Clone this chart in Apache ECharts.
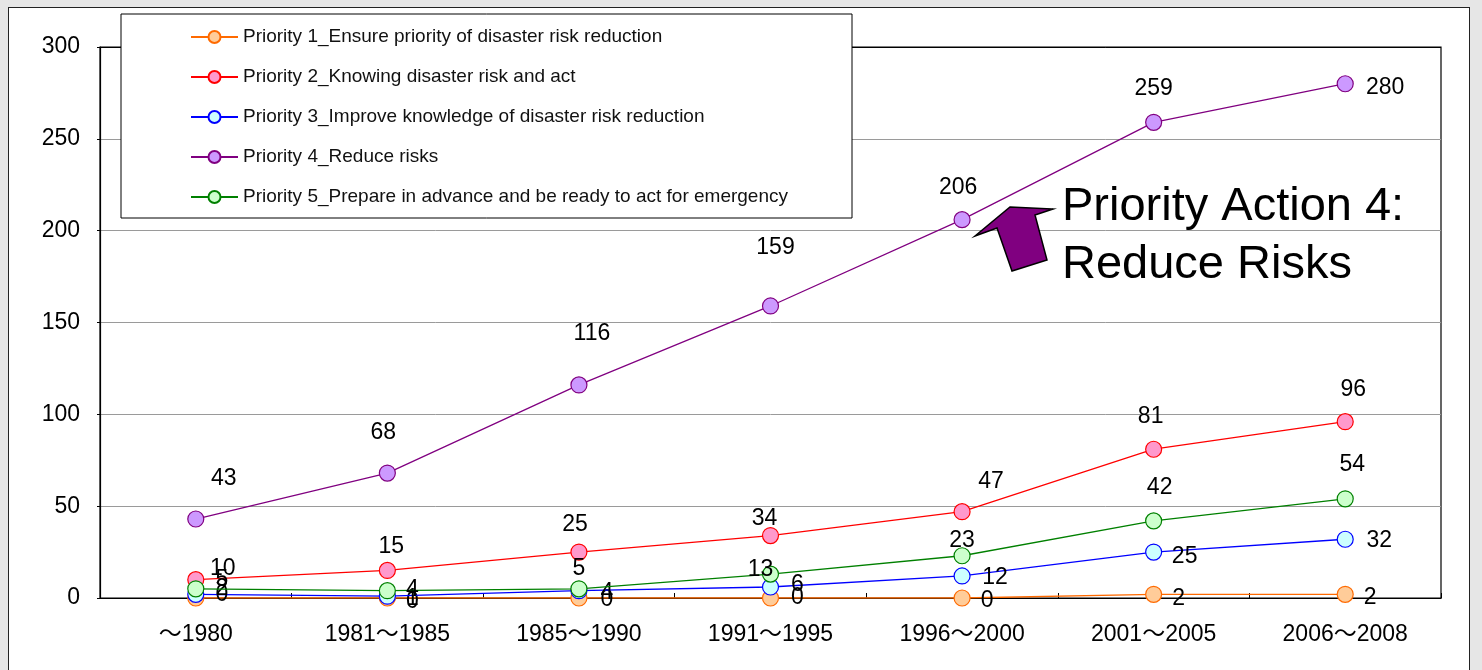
<!DOCTYPE html>
<html>
<head>
<meta charset="utf-8">
<script src="https://cdn.jsdelivr.net/npm/echarts@6/dist/echarts.min.js"></script>
<style>
  html, body { margin: 0; padding: 0; background: #e6e6e6; }
  #panel { position: absolute; left: 8px; top: 7px; width: 1462px; height: 700px; background: #fff; border: 1px solid #222; box-sizing: border-box; }
  #chart { position: absolute; left: 0; top: 0; width: 1482px; height: 670px; }
</style>
</head>
<body>
<div id="panel"></div>
<div id="chart"></div>
<script>
// Periods on the category axis
const periods = ['～1980', '1981～1985', '1985～1990', '1991～1995', '1996～2000', '2001～2005', '2006～2008'];

// Counts per priority and period
const priority1 = [0, 0, 0, 0, 0, 2, 2];
const priority2 = [10, 15, 25, 34, 47, 81, 96];
const priority3 = [2, 1, 4, 6, 12, 25, 32];
const priority4 = [43, 68, 116, 159, 206, 259, 280];
const priority5 = [5, 4, 5, 13, 23, 42, 54];

const seriesNames = [
  'Priority 1_Ensure priority of disaster risk reduction',
  'Priority 2_Knowing disaster risk and act',
  'Priority 3_Improve knowledge of disaster risk reduction',
  'Priority 4_Reduce risks',
  'Priority 5_Prepare in advance and be ready to act for emergency'
];

// Hand-placed label offsets (pixels from each marker) so the numbers don't collide
const labelOffsets = [
  [[26, -3], [25, 4], [28, 2], [27, 0], [25, 3], [25, 4], [25, 3]],
  [[27, -11], [4, -24], [-4, -27], [-6, -17], [29, -30], [-3, -33], [8, -32]],
  [[26, -6], [25, 2], [28, 2], [27, -2], [33, 2], [31, 5], [34, 1]],
  [[28, -40], [-4, -40], [13, -51], [5, -58], [-4, -32], [0, -34], [40, 4]],
  [[26, -9], [25, -1], [0, -20], [-10, -4], [0, -15], [6, -33], [7, -34]]
];

const lineColors = ['#ff6a00', '#ff0000', '#0000ff', '#800080', '#008000'];
const markerFills = ['#ffcc99', '#ff99cc', '#ccffff', '#cc99ff', '#ccffcc'];

const FONT = "'Liberation Sans', 'Noto Sans CJK JP', sans-serif";
const seriesValues = [priority1, priority2, priority3, priority4, priority5];

const series = seriesValues.map((vals, i) => ({
  name: seriesNames[i],
  type: 'line',
  data: vals.map((v, j) => ({ value: v, label: { offset: labelOffsets[i][j] } })),
  symbol: 'circle',
  symbolSize: 16,
  z: 2 + i,
  lineStyle: { color: lineColors[i], width: 1.3 },
  itemStyle: { color: markerFills[i], borderColor: lineColors[i], borderWidth: 1.2 },
  label: {
    show: true,
    position: 'inside',
    color: '#000',
    fontSize: 23,
    fontFamily: FONT
  },
  emphasis: { disabled: true },
  animation: false
}));

const chart = echarts.init(document.getElementById('chart'), null, { renderer: 'canvas' });

chart.setOption({
  backgroundColor: 'transparent',
  animation: false,
  grid: {
    left: 100, right: 41, top: 47, bottom: 72,
    show: true, backgroundColor: '#fff', borderColor: '#000', borderWidth: 1.2
  },
  xAxis: {
    type: 'category',
    data: periods,
    boundaryGap: true,
    axisLine: { lineStyle: { color: '#000', width: 1.2 } },
    axisTick: { show: true, inside: true, length: 5, lineStyle: { color: '#000' } },
    axisLabel: { color: '#000', fontSize: 23, fontFamily: FONT, margin: 25 }
  },
  yAxis: {
    type: 'value',
    min: 0, max: 300, interval: 50,
    axisLine: { show: true, lineStyle: { color: '#000', width: 1.2 } },
    axisTick: { show: true, length: 3, lineStyle: { color: '#000' } },
    axisLabel: { color: '#000', fontSize: 23, fontFamily: FONT, margin: 20 },
    splitLine: { lineStyle: { color: ['#000', '#9a9a9a', '#9a9a9a', '#9a9a9a', '#9a9a9a', '#9a9a9a', '#000'], width: 1 } }
  },
  legend: {
    orient: 'vertical',
    left: 190, top: 27,
    padding: 0,
    itemWidth: 47, itemHeight: 15, itemGap: 20,
    z: 20,
    textStyle: { color: '#111', fontSize: 19, fontFamily: FONT, lineHeight: 20 },
    data: seriesNames
  },
  graphic: [
    {
      type: 'rect', z: 15, silent: true,
      shape: { x: 121, y: 14, width: 731, height: 204 },
      style: { fill: '#fff', stroke: '#000', lineWidth: 1 }
    },
    {
      type: 'polygon', z: 15, silent: true,
      shape: { points: [[1010, 207], [1053, 209], [1035, 215], [1047, 260], [1012, 271], [997, 228], [975, 236]] },
      style: { fill: '#800080', stroke: '#000', lineWidth: 1.5 }
    },
    {
      type: 'text', z: 15, silent: true,
      left: 1062, top: 178,
      style: {
        text: 'Priority Action 4:\nReduce Risks',
        fill: '#000', font: "47px 'Liberation Sans', sans-serif", lineHeight: 58
      }
    }
  ],
  series: series
});
</script>
</body>
</html>
